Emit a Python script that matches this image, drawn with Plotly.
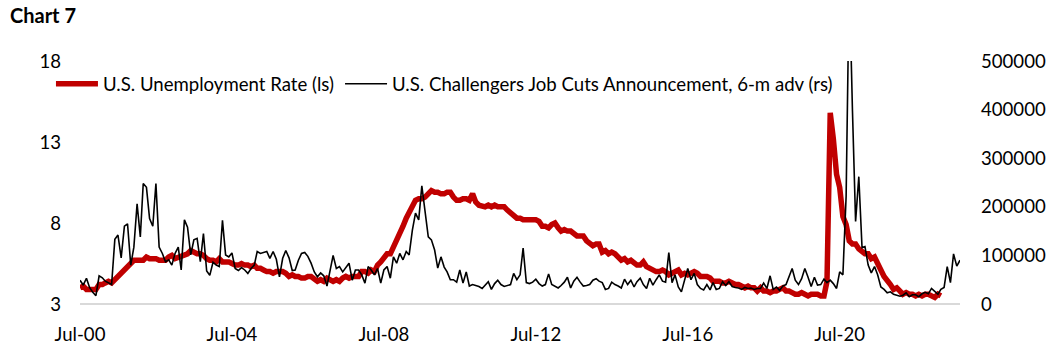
import plotly.graph_objects as go
import pandas as pd

# U.S. unemployment rate (%), monthly, Jul 2000 - Mar 2023
unemployment = [
    4.0, 4.1, 3.9, 3.9, 3.9, 3.9,
    4.2, 4.2, 4.3, 4.4, 4.3, 4.5, 4.6, 4.9, 5.0, 5.3, 5.5, 5.7,
    5.7, 5.7, 5.7, 5.9, 5.8, 5.8, 5.8, 5.7, 5.7, 5.7, 5.9, 6.0,
    5.8, 5.9, 5.9, 6.0, 6.1, 6.3, 6.2, 6.1, 6.1, 6.0, 5.8, 5.7,
    5.7, 5.6, 5.8, 5.6, 5.6, 5.6, 5.5, 5.4, 5.4, 5.5, 5.4, 5.4,
    5.3, 5.4, 5.2, 5.2, 5.1, 5.0, 5.0, 4.9, 5.0, 5.0, 5.0, 4.9,
    4.7, 4.8, 4.7, 4.7, 4.6, 4.6, 4.7, 4.7, 4.5, 4.4, 4.5, 4.4,
    4.6, 4.5, 4.4, 4.5, 4.4, 4.6, 4.7, 4.6, 4.7, 4.7, 4.7, 5.0,
    5.0, 4.9, 5.1, 5.0, 5.4, 5.6, 5.8, 6.1, 6.1, 6.5, 6.8, 7.3,
    7.8, 8.3, 8.7, 9.0, 9.4, 9.5, 9.5, 9.6, 9.8, 10.0, 9.9, 9.9,
    9.8, 9.8, 9.9, 9.9, 9.6, 9.4, 9.4, 9.5, 9.5, 9.4, 9.8, 9.3,
    9.1, 9.0, 9.0, 9.1, 9.0, 9.1, 9.0, 9.0, 9.0, 8.8, 8.6, 8.5,
    8.3, 8.3, 8.2, 8.2, 8.2, 8.2, 8.2, 8.1, 7.8, 7.8, 7.7, 7.9,
    8.0, 7.7, 7.5, 7.6, 7.5, 7.5, 7.3, 7.2, 7.2, 7.2, 6.9, 6.7,
    6.6, 6.7, 6.7, 6.2, 6.3, 6.1, 6.2, 6.1, 5.9, 5.7, 5.8, 5.6,
    5.7, 5.5, 5.4, 5.4, 5.6, 5.3, 5.2, 5.1, 5.0, 5.0, 5.1, 5.0,
    4.8, 4.9, 5.0, 5.1, 4.8, 4.9, 4.8, 4.9, 5.0, 4.9, 4.7, 4.7,
    4.7, 4.6, 4.4, 4.4, 4.4, 4.3, 4.3, 4.4, 4.3, 4.2, 4.2, 4.1,
    4.0, 4.1, 4.0, 4.0, 3.8, 4.0, 3.8, 3.8, 3.7, 3.8, 3.8, 3.9,
    4.0, 3.8, 3.8, 3.7, 3.6, 3.6, 3.7, 3.6, 3.5, 3.6, 3.6, 3.6,
    3.5, 3.5, 4.4, 14.8, 13.2, 11.0, 10.2, 8.4, 7.9, 6.9, 6.7, 6.7,
    6.4, 6.2, 6.1, 6.1, 5.8, 5.9, 5.4, 5.1, 4.7, 4.5, 4.2, 3.9,
    4.0, 3.8, 3.6, 3.7, 3.6, 3.6, 3.5, 3.6, 3.5, 3.6, 3.6, 3.5,
    3.4, 3.6, 3.5,
]

# Challenger job cut announcements, advanced 6 months, Jul 2000 - Sep 2023
job_cuts = [
    49000, 39000, 53000, 34000, 24000, 17000,
    58000, 54000, 47000, 43000, 40000, 133000, 142000, 95000, 160000, 165000, 80000, 117000,
    206000, 138000, 248000, 240000, 176000, 160000, 248000, 117000, 104000, 87000, 91000, 80000,
    104000, 117000, 70000, 173000, 158000, 101000, 132000, 135000, 87000, 145000, 68000, 59000,
    86000, 80000, 77000, 172000, 101000, 97000, 105000, 73000, 69000, 75000, 70000, 63000,
    73000, 80000, 108000, 104000, 106000, 108000, 94000, 108000, 92000, 56000, 94000, 110000,
    95000, 69000, 70000, 90000, 104000, 106000, 98000, 84000, 66000, 56000, 64000, 58000,
    37000, 70000, 100000, 73000, 77000, 66000, 75000, 84000, 49000, 70000, 70000, 60000,
    43000, 77000, 70000, 60000, 73000, 43000, 70000, 77000, 53000, 97000, 84000, 104000,
    91000, 108000, 101000, 152000, 187000, 173000, 243000, 187000, 138000, 132000, 111000, 74000,
    97000, 76000, 66000, 50000, 50000, 45000, 70000, 43000, 66000, 37000, 40000, 38000,
    36000, 32000, 38000, 46000, 30000, 42000, 49000, 40000, 36000, 38000, 40000, 63000,
    50000, 60000, 115000, 44000, 42000, 45000, 51000, 42000, 37000, 40000, 62000, 40000,
    37000, 33000, 38000, 45000, 55000, 33000, 47000, 55000, 45000, 37000, 38000, 40000,
    49000, 52000, 47000, 44000, 30000, 32000, 45000, 40000, 37000, 33000, 51000, 40000,
    49000, 35000, 46000, 53000, 40000, 32000, 53000, 39000, 50000, 60000, 47000, 45000,
    106000, 44000, 60000, 35000, 25000, 50000, 73000, 50000, 63000, 40000, 32000, 29000,
    40000, 29000, 44000, 30000, 32000, 46000, 38000, 46000, 36000, 34000, 33000, 30000,
    34000, 32000, 33000, 30000, 32000, 32000, 43000, 32000, 58000, 30000, 35000, 28000,
    37000, 40000, 55000, 73000, 49000, 40000, 52000, 73000, 55000, 36000, 55000, 39000,
    40000, 51000, 44000, 49000, 42000, 32000, 66000, 60000, 222000, 671000, 397000, 170000,
    262000, 116000, 118000, 80000, 64000, 77000, 60000, 35000, 30000, 23000, 25000, 20000,
    18000, 16000, 18000, 23000, 15000, 19000, 19000, 15000, 21000, 24000, 21000, 32000,
    26000, 20000, 30000, 34000, 77000, 44000, 103000, 78000, 90000,
]

tick_dates = ["2000-07-01", "2004-07-01", "2008-07-01", "2012-07-01", "2016-07-01", "2020-07-01"]
tick_labels = ["Jul-00", "Jul-04", "Jul-08", "Jul-12", "Jul-16", "Jul-20"]
left_ticks = [3, 8, 13, 18]
right_ticks = [0, 100000, 200000, 300000, 400000, 500000]

dates_u = pd.date_range("2000-07-01", periods=len(unemployment), freq="MS")
dates_c = pd.date_range("2000-07-01", periods=len(job_cuts), freq="MS")

FONT = "Lato"
FS = 18.6

fig = go.Figure()
fig.add_trace(go.Scatter(
    x=dates_u, y=unemployment, mode="lines", name="U.S. Unemployment Rate (ls)",
    line=dict(color="#C00000", width=5.5), yaxis="y", legend="legend",
))
fig.add_trace(go.Scatter(
    x=dates_c, y=job_cuts, mode="lines", name="U.S. Challengers Job Cuts Announcement, 6-m adv (rs)",
    line=dict(color="#000000", width=1.6), yaxis="y2", legend="legend2",
))

legend_common = dict(orientation="h", xanchor="left", y=0.905, yanchor="middle",
                     bgcolor="rgba(0,0,0,0)", font=dict(family=FONT, size=FS, color="#000000"),
                     itemwidth=42, borderwidth=0)

fig.update_layout(
    width=1054, height=344,
    margin=dict(l=80, r=94, t=61, b=40),
    paper_bgcolor="white", plot_bgcolor="white",
    font=dict(family=FONT, size=FS, color="#000000"),
    showlegend=True,
    legend=dict(x=-0.033, **legend_common),
    legend2=dict(x=0.2955, **legend_common),
    xaxis=dict(
        type="date", range=[dates_c[0], dates_c[-1]],
        tickmode="array", tickvals=tick_dates, ticktext=tick_labels,
        showgrid=False, zeroline=False, showline=False, ticks="",
        ticklabelstandoff=17, automargin=False,
    ),
    yaxis=dict(
        range=[3, 18], tickmode="array", tickvals=left_ticks,
        showgrid=False, zeroline=False, showline=False, ticks="",
        ticklabelstandoff=18, automargin=False,
    ),
    yaxis2=dict(
        range=[0, 500000], overlaying="y", side="right",
        tickmode="array", tickvals=right_ticks, tickformat="d",
        showgrid=False, zeroline=False, showline=False, ticks="",
        ticklabelstandoff=20, automargin=False,
    ),
    shapes=[dict(type="line", xref="paper", yref="paper", x0=0, x1=1, y0=0, y1=0,
                 line=dict(color="#D9D9D9", width=2), layer="below")],
    annotations=[dict(text="<b>Chart 7</b>", xref="paper", yref="paper",
                      x=-0.082, y=1.19, xanchor="left", yanchor="middle",
                      showarrow=False, font=dict(family=FONT, size=20, color="#000000"))],
)

fig.write_html("out.html")
